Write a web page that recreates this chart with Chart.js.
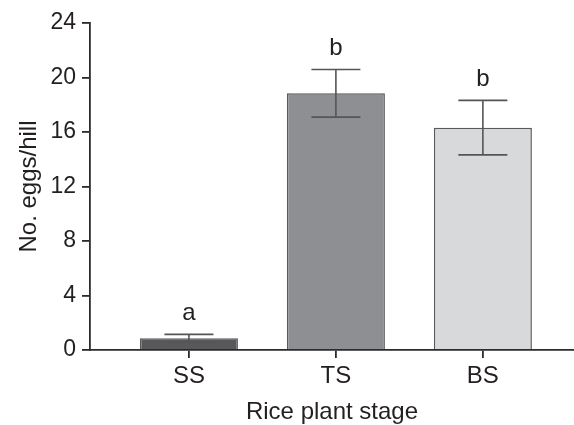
<!DOCTYPE html>
<html>
<head>
<meta charset="utf-8">
<script src="https://cdn.jsdelivr.net/npm/chart.js@4.4.1/dist/chart.umd.min.js"></script>
<style>
  html, body { margin: 0; padding: 0; background: #ffffff; }
  #wrap { width: 574px; height: 425px; }
</style>
</head>
<body>
<div id="wrap"><canvas id="c" width="574" height="425"></canvas></div>
<script>
// ---- data ----
const categories = ['SS', 'TS', 'BS'];
const meanEggs = [0.86, 18.84, 16.32];
const stdErrors = [0.29, 1.75, 2.0];
const sigLetters = ['a', 'b', 'b'];
const yTicks = [0, 4, 8, 12, 16, 20, 24];
const barColors = ['#58585a', '#8e8f93', '#d8d9db'];

const FONT = "'Liberation Sans', Arial, Helvetica, sans-serif";
const INK = '#231f20';
const AXIS = '#2b2b2b';

const errorBarPlugin = {
  id: 'errorBars',
  afterDatasetsDraw(chart) {
    const ctx = chart.ctx;
    const xs = chart.scales.x, ys = chart.scales.y;
    const meta = chart.getDatasetMeta(0);
    ctx.save();
    ctx.strokeStyle = '#555555';
    ctx.lineWidth = 1.6;
    meta.data.forEach((bar, i) => {
      const cx = xs.getPixelForValue(i);
      const half = bar.width / 4;
      const yHi = ys.getPixelForValue(meanEggs[i] + stdErrors[i]);
      const yLo = ys.getPixelForValue(meanEggs[i] - stdErrors[i]);
      ctx.beginPath();
      ctx.moveTo(cx, yHi); ctx.lineTo(cx, yLo);
      ctx.moveTo(cx - half, yHi); ctx.lineTo(cx + half, yHi);
      ctx.moveTo(cx - half, yLo); ctx.lineTo(cx + half, yLo);
      ctx.stroke();
      ctx.fillStyle = INK;
      ctx.font = '24px ' + FONT;
      ctx.textAlign = 'center';
      ctx.textBaseline = 'alphabetic';
      ctx.fillText(sigLetters[i], cx, yHi - 14);
    });
    ctx.restore();
  }
};

new Chart(document.getElementById('c'), {
  type: 'bar',
  data: {
    datasets: [{
      data: categories.map((c, i) => ({ x: i, y: meanEggs[i] })),
      backgroundColor: barColors,
      borderColor: '#5a5a5c',
      borderWidth: 1.5,
      barPercentage: 0.667,
      categoryPercentage: 1.0
    }]
  },
  options: {
    responsive: false,
    animation: false,
    layout: { padding: { top: 23, right: 0, left: 0, bottom: 0 } },
    plugins: { legend: { display: false }, tooltip: { enabled: false } },
    scales: {
      x: {
        type: 'linear',
        min: -0.673,
        max: 2.62,
        offset: false,
        afterBuildTicks(scale) { scale.ticks = categories.map((c, i) => ({ value: i })); },
        afterFit(scale) { scale.height = 75; },
        ticks: {
          callback: (v) => categories[v],
          color: INK,
          font: { family: FONT, size: 24 },
          padding: 4,
          maxRotation: 0,
          autoSkip: false
        },
        grid: { offset: false, drawOnChartArea: false, drawTicks: true, tickLength: 8, color: AXIS, lineWidth: 1.8 },
        border: { display: true, color: AXIS, width: 1.8 },
        title: {
          display: true,
          text: 'Rice plant stage',
          color: INK,
          font: { family: FONT, size: 24 },
          padding: { top: 0, bottom: -2 }
        }
      },
      y: {
        min: 0,
        max: 24,
        afterBuildTicks(scale) { scale.ticks = yTicks.map(v => ({ value: v })); },
        afterFit(scale) { scale.width = 90; },
        ticks: {
          color: INK,
          font: { family: FONT, size: 23 },
          padding: 6
        },
        grid: { drawOnChartArea: false, drawTicks: true, tickLength: 8, color: AXIS, lineWidth: 1.8 },
        border: { display: true, color: AXIS, width: 1.8 },
        title: {
          display: true,
          text: 'No. eggs/hill',
          color: INK,
          font: { family: FONT, size: 24 },
          padding: { top: 15, bottom: 0 }
        }
      }
    }
  },
  plugins: [errorBarPlugin]
});
</script>
</body>
</html>
